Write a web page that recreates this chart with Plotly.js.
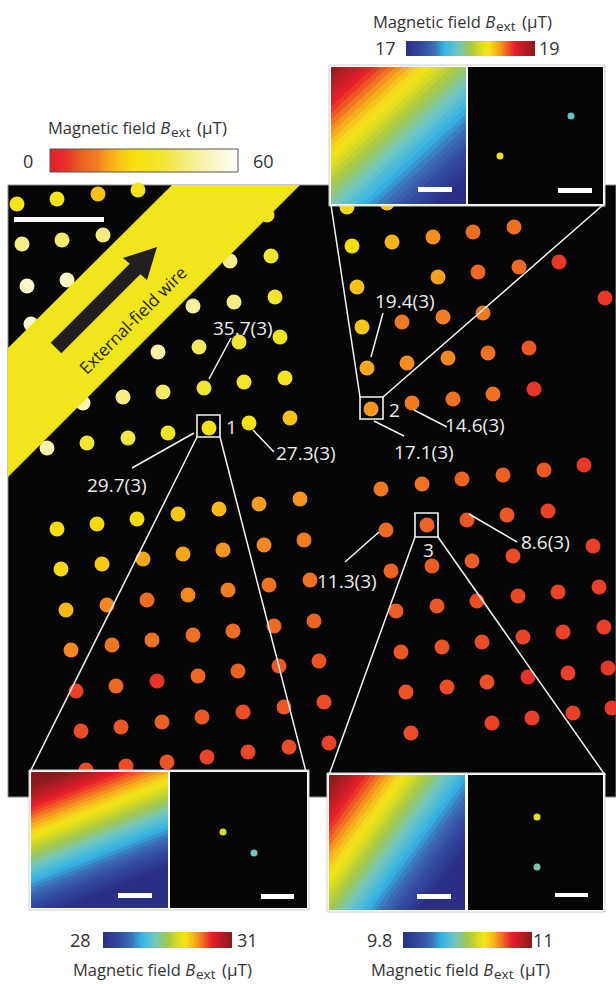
<!DOCTYPE html>
<html><head><meta charset="utf-8">
<script src="https://cdn.plot.ly/plotly-3.0.1.min.js"></script>
<style>html,body{margin:0;padding:0;background:#fff}#chart{width:616px;height:984px}</style>
</head><body><div id="chart"></div>
<script>
// ---------------- DATA ----------------
// Measured NV positions (figure px frame) and external field (µT)
const leftX = [17,57,98,138, 22,62,103, 27,67, 31, 267, 230,271, 193,234,275, 158,199,239,280, 83,123,163,204,244,285, 47,87,128,168,209,249,290,
  57,97,137,178,219,259,300, 61,102,143,183,223,264,304, 66,107,147,188,228,269,310, 71,112,152,193,233,274,314, 76,116,157,198,238,279,319, 81,121,162,202,243,284,324, 86,126,167,207,248,289,329];
const leftY = [204,199,194,190, 244,240,235, 286,280, 324, 215, 261,256, 306,302,297, 352,347,342,337, 403,397,392,388,382,378, 448,443,438,433,428,423,418,
  529,524,519,514,509,504,499, 569,564,559,554,550,545,540, 610,605,600,595,590,585,580, 650,645,640,635,631,626,621, 691,686,681,676,671,666,661, 731,727,722,717,712,707,702, 770,766,762,757,752,747,743];
const leftB = [30,30,22,31, 44,42,43, 53,52, 54, 33, 45,35, 47,44,34, 48,40,36,33, 50,44,41,35.7,34,32, 49,35,38,33,29.7,27.3,22,
  27,26,26,23,21,18,17, 26,23,19,19,17,16,15, 21,16,12,16,15,13,13, 16,14,12.5,13,12,11,10.5, 7,11,5,11,10,9,8.5, 8,9,10,9,8,9,8, 8,8,8.5,7,7.5,8,7];
const rightX = [347,387, 352,392,433,473,514, 357,438,478,519,559,605, 362,402,443,483, 367,407,448,488,529, 371,412,453,493,534, 381,422,462,503,544,584,
  386,427,467,507,548, 391,432,472,513,593, 396,437,477,518,558,599, 401,442,482,523,563,604, 406,447,487,528,568,608, 411,492,532,573,612];
const rightY = [207,203, 246,242,237,232,227, 287,277,272,267,262,298, 327,322,317,313, 368,363,358,353,348, 409,403,399,394,389, 489,484,479,475,470,465,
  530,525,520,515,511, 571,566,561,556,546, 611,606,601,596,592,587, 652,647,642,637,632,627, 692,687,682,677,673,668, 733,723,718,713,708];
const rightB = [26,22, 27,20.5,16.5,12,12.5, 22,18.5,11,11.5,6,6, 22.5,14.5,15,14.5, 19.4,16.5,16,12.5,9, 17.1,14.6,13,12.5,5.5, 14,13,10.5,10,9,6,
  11.3,10.4,8.6,9,7, 10.5,9.5,9.5,8,6.5, 9.5,9,8,7.5,7,6.5, 9,8.5,8,7,7,6.5, 8.5,8,8,5,6.5,6, 8,7,6.5,6.5,6];

// Labelled values
const valueLabels = ['35.7(3)','29.7(3)','27.3(3)','19.4(3)','17.1(3)','14.6(3)','11.3(3)','8.6(3)'];
const siteLabels = ['1','2','3'];

// Colour-bar ranges and tick labels
const rangeMain = [0, 60], ticksMain = ['0','60'];
const range2 = [17, 19],  ticks2 = ['17','19'];
const range1 = [28, 31],  ticks1 = ['28','31'];
const range3 = [9.8, 11], ticks3 = ['9.8','11'];

// Zoomed field maps: corner values [[TL,TR],[BL,BR]] (µT)
const grad2 = [[19.0,17.95],[17.85,16.8]];
const grad1 = [[31.3,30.1],[28.3,27.1]];
const grad3 = [[11.04,10.16],[10.40,9.52]];

// Zoomed NV images: two NVs each
const nv2X = [571,500], nv2Y = [116,156], nv2B = [17.78,18.22];
const nv1X = [223,254], nv1Y = [832,853], nv1B = [29.75,29.2];
const nv3X = [537,537], nv3Y = [817,867], nv3B = [10.52,10.3];

// ---------------- STYLE ----------------
const mainScale = [[0,'#e41e2b'],[0.1,'#e8382a'],[0.143,'#ec5525'],[0.19,'#ee6a23'],[0.245,'#f07a22'],[0.285,'#f5961f'],
  [0.323,'#f7a81c'],[0.37,'#f8c514'],[0.45,'#f6df0c'],[0.55,'#f3e422'],[0.62,'#f3e640'],[0.75,'#f5ee8f'],[0.9,'#faf7d2'],[1,'#ffffff']];
const jet = [[0,'#2a2e85'],[0.12,'#334a9f'],[0.22,'#3b6fb6'],[0.3,'#35b4e6'],[0.4,'#6ec6c4'],[0.5,'#a4c84a'],[0.6,'#e6e01a'],
  [0.64,'#f4e31a'],[0.72,'#f7a51e'],[0.84,'#e8202a'],[1,'#8a1a1d']];
const FONT = 'Open Sans, Noto Sans, sans-serif';
const TXT = '#333333', WHITE_TXT = '#ececec';

// geometry (figure pixels)
const G = {
  panel:[8,185,616,797],
  in2:{frame:[329,65,605,206], grad:[331,67,466,204], dots:[468,67,603,204], bar1:[418,187,452,192], bar2:[558,188,592,193]},
  in1:{frame:[29,770,309,910], grad:[31,772,168,908], dots:[170,772,307,908], bar1:[118,893,152,898], bar2:[261,894,294,899]},
  in3:{frame:[327,773,605,912], grad:[329,775,465,910], dots:[468,775,603,910], bar1:[417,894,451,899], bar2:[555,893,588,897]},
  cbMain:[50,149,238,172], cb2:[406,41,535,56], cb1:[103,932,232,948], cb3:[403,932,532,948]
};

const traces = [];
traces.push({type:'scatter', mode:'markers', x:leftX.concat(rightX), y:leftY.concat(rightY), xaxis:'x', yaxis:'y',
  marker:{size:15, color:leftB.concat(rightB), colorscale:mainScale, cmin:rangeMain[0], cmax:rangeMain[1], line:{width:0}},
  hoverinfo:'skip', cliponaxis:false});

function contourBox(box, z, scale, rng, nlev){
  return {type:'contour', x:[box[0],box[2]], y:[box[1],box[3]], z:z, xaxis:'x2', yaxis:'y2',
    colorscale:scale, zmin:rng[0], zmax:rng[1], zauto:false, autocontour:false, showscale:false,
    contours:{start:rng[0], end:rng[1], size:(rng[1]-rng[0])/nlev, coloring:'fill', showlines:false},
    line:{width:0, smoothing:0}, hoverinfo:'skip'};
}
traces.push(contourBox(G.in2.grad, grad2, jet, range2, 36));
traces.push(contourBox(G.in1.grad, grad1, jet, range1, 36));
traces.push(contourBox(G.in3.grad, grad3, jet, range3, 36));
function cbar(box, rng, scale, nlev){
  return contourBox(box, [[rng[0],rng[1]],[rng[0],rng[1]]], scale, rng, nlev);
}
traces.push(cbar(G.cbMain, rangeMain, mainScale, 120));
traces.push(cbar(G.cb2, range2, jet, 60));
traces.push(cbar(G.cb1, range1, jet, 60));
traces.push(cbar(G.cb3, range3, jet, 60));
function nvTrace(x,y,b,rng){
  return {type:'scatter', mode:'markers', x:x, y:y, xaxis:'x2', yaxis:'y2',
    marker:{size:7, color:b, colorscale:jet, cmin:rng[0], cmax:rng[1], line:{width:0}}, hoverinfo:'skip'};
}
traces.push(nvTrace(nv2X,nv2Y,nv2B,range2));
traces.push(nvTrace(nv1X,nv1Y,nv1B,range1));
traces.push(nvTrace(nv3X,nv3Y,nv3B,range3));

// ---------------- SHAPES ----------------
const shapes = [];
function rect(b, fill, lineColor, lw, layer, ax){
  return {type:'rect', xref:ax[0], yref:ax[1], x0:b[0], y0:b[1], x1:b[2], y1:b[3], fillcolor:fill,
    line:{color:lineColor||'rgba(0,0,0,0)', width:lw||0}, layer:layer};
}
function line(x0,y0,x1,y1,w){
  return {type:'line', xref:'x', yref:'y', x0:x0,y0:y0,x1:x1,y1:y1, line:{color:'#f4f4f4', width:w||1.5}, layer:'above'};
}
shapes.push(rect(G.panel,'#050505','#8c8c8c',1,'below',['x','y']));
['in2','in1','in3'].forEach(k=>{
  shapes.push(rect(G[k].frame,'#ffffff','#cfcfcf',1,'below',['x2','y2']));
  shapes.push(rect(G[k].dots,'#050505',null,0,'below',['x2','y2']));
  shapes.push(rect(G[k].bar1,'#ffffff',null,0,'above',['x2','y2']));
  shapes.push(rect(G[k].bar2,'#ffffff',null,0,'above',['x2','y2']));
});
// external-field wire and arrow
shapes.push({type:'path', xref:'x', yref:'y', path:'M172,185 L300,185 L8,477 L8,348 Z', fillcolor:'#f2e51b', line:{width:0}, layer:'above'});
shapes.push({type:'path', xref:'x', yref:'y', path:'M50.7,342.7 L129.7,263.7 L123,258 L157,247 L147,280 L140.3,274.3 L61.3,353.3 Z', fillcolor:'#231f20', line:{width:0}, layer:'above'});
// scale bar
shapes.push(rect([14,217,104,222],'#ffffff',null,0,'above',['x','y']));
// boxes around sites
[[197,415,220,437],[360,397,383,419],[415,513,438,537]].forEach(b=>{
  shapes.push({type:'rect', xref:'x', yref:'y', x0:b[0],y0:b[1],x1:b[2],y1:b[3], fillcolor:'rgba(0,0,0,0)', line:{color:'#f4f4f4', width:1.6}, layer:'above'});
});
// connectors
shapes.push(line(197,437,30,772)); shapes.push(line(220,437,306,772));
shapes.push(line(360,397,331,205)); shapes.push(line(383,397,603,205));
shapes.push(line(415,537,329,775)); shapes.push(line(438,537,605,775));
// leader lines
[[231,338,209,379],[194,433,132,468],[253,430,274,452],[383,313,371,357],[374,421,404,436],[414,410,447,427],[379,532,345,562],[469,514,517,542]]
  .forEach(l=>shapes.push(line(l[0],l[1],l[2],l[3],1.5)));
// main colour bar outline
shapes.push({type:'rect', xref:'x', yref:'y', x0:G.cbMain[0],y0:G.cbMain[1],x1:G.cbMain[2],y1:G.cbMain[3], fillcolor:'rgba(0,0,0,0)', line:{color:'#555', width:1}, layer:'above'});

// ---------------- ANNOTATIONS ----------------
const ann = [];
function txt(x,y,t,size,color,extra){
  return Object.assign({xref:'x', yref:'y', x:x, y:y, text:t, showarrow:false, xanchor:'center', yanchor:'middle',
    font:{family:FONT, size:size, color:color}}, extra||{});
}
// colour-bar titles: "Magnetic field B" | "ext" (subscript) | "(µT)"
function cbTitle(xB, y){
  ann.push(txt(xB, y, 'Magnetic field <i>B</i>', 16.5, TXT, {xanchor:'right'}));
  ann.push(txt(xB-3, y+5, 'ext', 13.5, TXT, {xanchor:'left'}));
  ann.push(txt(xB+23, y, '(µT)', 17, TXT, {xanchor:'left'}));
}
cbTitle(172,127); cbTitle(497,21); cbTitle(197,969); cbTitle(495,969);
ann.push(txt(28,161,ticksMain[0],18,TXT)); ann.push(txt(263,161,ticksMain[1],18,TXT));
ann.push(txt(385,48,ticks2[0],18,TXT)); ann.push(txt(549,48,ticks2[1],18,TXT));
ann.push(txt(80,940,ticks1[0],18,TXT)); ann.push(txt(247,940,ticks1[1],18,TXT));
ann.push(txt(379,940,ticks3[0],18,TXT)); ann.push(txt(543,940,ticks3[1],18,TXT));
const valPos = [[243,328],[117,485],[306,453],[405,301],[424,452],[475,425],[347,581],[545,542]];
valueLabels.forEach((t,i)=>ann.push(txt(valPos[i][0],valPos[i][1],t,19,WHITE_TXT)));
const sitePos = [[231,427],[394,410],[428,550]];
siteLabels.forEach((t,i)=>ann.push(txt(sitePos[i][0],sitePos[i][1],t,19,WHITE_TXT)));
ann.push(txt(132,320,'External-field wire',17,'#231f20',{textangle:-45}));

const axisBase = {visible:false, fixedrange:true, showgrid:false, zeroline:false};
const layout = {
  width:616, height:984, margin:{l:0,r:0,t:0,b:0}, paper_bgcolor:'#ffffff', plot_bgcolor:'rgba(0,0,0,0)',
  showlegend:false,
  xaxis:Object.assign({range:[0,616], domain:[0,1], anchor:'y'}, axisBase),
  yaxis:Object.assign({range:[984,0], domain:[0,1], anchor:'x'}, axisBase),
  xaxis2:Object.assign({range:[0,616], domain:[0,1], anchor:'y2'}, axisBase),
  yaxis2:Object.assign({range:[984,0], domain:[0,1], anchor:'x2'}, axisBase),
  shapes:shapes, annotations:ann
};
Plotly.newPlot('chart', traces, layout, {displayModeBar:false, staticPlot:true});
</script></body></html>
